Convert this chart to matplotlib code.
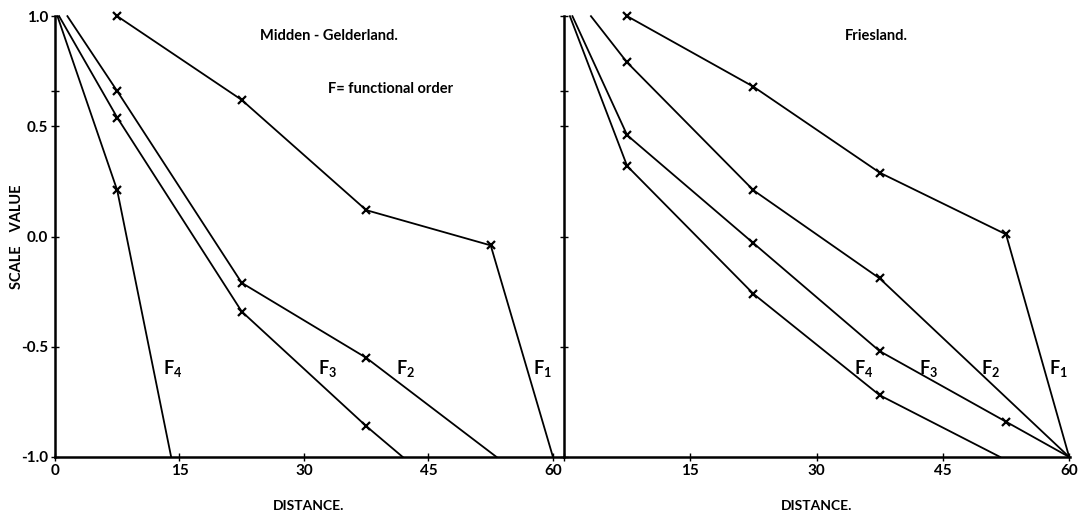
import matplotlib
matplotlib.use("Agg")
import matplotlib.pyplot as plt

# Midden-Gelderland (left panel)
mg_f1_x = [7.5, 22.5, 37.5, 52.5, 60.0]
mg_f1_y = [1.0, 0.62, 0.12, -0.04, -1.0]
mg_f2_x = [1.5, 7.5, 22.5, 37.5, 53.2]
mg_f2_y = [1.0, 0.66, -0.21, -0.55, -1.0]
mg_f3_x = [0.5, 7.5, 22.5, 37.5, 41.9]
mg_f3_y = [1.0, 0.54, -0.34, -0.86, -1.0]
mg_f4_x = [0.3, 7.5, 14.0]
mg_f4_y = [1.0, 0.21, -1.0]

# Friesland (right panel)
fr_f1_x = [7.5, 22.5, 37.5, 52.5, 60.0]
fr_f1_y = [1.0, 0.68, 0.29, 0.01, -1.0]
fr_f2_x = [3.2, 7.5, 22.5, 37.5, 60.0]
fr_f2_y = [1.0, 0.79, 0.21, -0.19, -1.0]
fr_f3_x = [1.0, 7.5, 22.5, 37.5, 52.5, 60.0]
fr_f3_y = [1.0, 0.46, -0.03, -0.52, -0.84, -1.0]
fr_f4_x = [0.7, 7.5, 22.5, 37.5, 51.8]
fr_f4_y = [1.0, 0.32, -0.26, -0.72, -1.0]

x_ticks = [0, 15, 30, 45, 60]
y_ticks = [-1.0, -0.5, 0.0, 0.5, 0.66, 1.0]
y_labels = ['-1.0', '-0.5', '0.0', '0.5', '', '1.0']

plt.rcParams['font.family'] = ['Lato', 'DejaVu Sans']
plt.rcParams['font.weight'] = 'bold'
plt.rcParams['axes.labelweight'] = 'bold'
plt.rcParams['mathtext.fontset'] = 'custom'
plt.rcParams['mathtext.rm'] = 'Lato:bold'
plt.rcParams['mathtext.it'] = 'Lato:bold'

fig = plt.figure(figsize=(10.84, 5.18), dpi=100)
ax1 = fig.add_axes([0.0507, 0.1178, 0.4686, 0.851])
ax2 = fig.add_axes([0.5203, 0.1178, 0.4668, 0.851])

def style_axes(ax, xmax, xlabels):
    for s in ['top', 'right']:
        ax.spines[s].set_visible(False)
    for s in ['left', 'bottom']:
        ax.spines[s].set_linewidth(1.8)
    ax.set_xlim(0, xmax)
    ax.set_ylim(-1.0, 1.0)
    ax.set_xticks(x_ticks)
    ax.set_xticklabels(xlabels, fontsize=11)
    ax.set_yticks(y_ticks)
    ax.tick_params(direction='inout', length=6, width=1, pad=2)
    ax.set_xlabel('DISTANCE.', fontsize=10)
    ax.xaxis.set_label_coords(0.5, -0.098)

def draw(ax, x, y, every):
    ax.plot(x, y, color='black', lw=1.3, marker='x', markersize=6,
            mew=1.6, markevery=every, clip_on=False)

style_axes(ax1, 61.2, ['0', '15', '30', '45', '60'])
ax1.set_yticklabels(y_labels, fontsize=11)
ax1.set_ylabel('SCALE    VALUE', fontsize=10.5)
ax1.yaxis.set_label_coords(-0.06, 0.5)

style_axes(ax2, 60.1, ['', '15', '30', '45', '60'])
ax2.set_yticklabels([''] * len(y_ticks))

draw(ax1, mg_f1_x, mg_f1_y, slice(0, -1))
draw(ax1, mg_f2_x, mg_f2_y, slice(1, -1))
draw(ax1, mg_f3_x, mg_f3_y, slice(1, -1))
draw(ax1, mg_f4_x, mg_f4_y, slice(1, -1))

draw(ax2, fr_f1_x, fr_f1_y, slice(0, -1))
draw(ax2, fr_f2_x, fr_f2_y, slice(1, -1))
draw(ax2, fr_f3_x, fr_f3_y, slice(1, -1))
draw(ax2, fr_f4_x, fr_f4_y, slice(1, -1))

# curve labels
for ax, pos in [(ax1, [(14.2, 'F$_4$'), (32.9, 'F$_3$'), (42.3, 'F$_2$'), (58.7, 'F$_1$')]),
                (ax2, [(35.6, 'F$_4$'), (43.3, 'F$_3$'), (50.7, 'F$_2$'), (58.7, 'F$_1$')])]:
    for xv, t in pos:
        ax.text(xv, -0.6, t, fontsize=13, ha='center', va='center')

ax1.text(33.0, 0.91, 'Midden - Gelderland.', fontsize=10.5, ha='center', va='center')
ax1.text(40.4, 0.67, 'F= functional order', fontsize=10.5, ha='center', va='center')
ax2.text(37.1, 0.91, 'Friesland.', fontsize=10.5, ha='center', va='center')

fig.savefig('out.png', dpi=100)
